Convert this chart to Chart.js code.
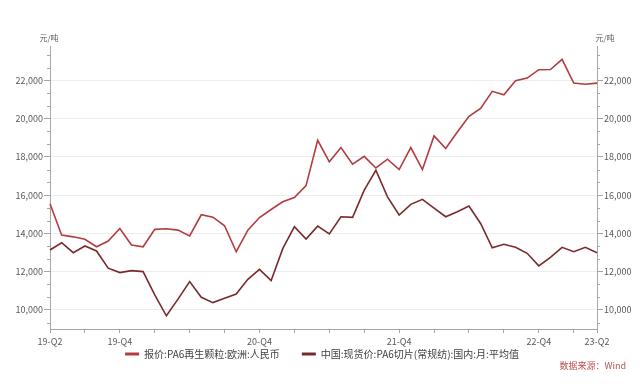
<!DOCTYPE html>
<html><head><meta charset="utf-8">
<script src="https://cdn.jsdelivr.net/npm/chart.js@4.4.0/dist/chart.umd.min.js"></script>
<style>html,body{margin:0;padding:0;background:#fff;}#wrap{width:640px;height:386px;position:relative}</style>
</head><body><div id="wrap"><canvas id="c" width="640" height="386"></canvas></div>
<script>
// ---- data ----
const months = ['2019-04','2019-05','2019-06','2019-07','2019-08','2019-09','2019-10','2019-11','2019-12',
  '2020-01','2020-02','2020-03','2020-04','2020-05','2020-06','2020-07','2020-08','2020-09','2020-10','2020-11','2020-12',
  '2021-01','2021-02','2021-03','2021-04','2021-05','2021-06','2021-07','2021-08','2021-09','2021-10','2021-11','2021-12',
  '2022-01','2022-02','2022-03','2022-04','2022-05','2022-06','2022-07','2022-08','2022-09','2022-10','2022-11','2022-12',
  '2023-01','2023-02','2023-03'];
const europeRecycled = [15550,13910,13820,13690,13300,13600,14260,13390,13300,14210,14240,14170,
  13870,14975,14850,14400,13040,14170,14830,15250,15650,15880,16500,18870,
  17740,18490,17620,18030,17420,17880,17340,18490,17340,19100,18440,19300,
  20120,20540,21430,21250,21980,22120,22560,22570,23100,21860,21800,21860];
const chinaChip = [13130,13510,12990,13340,13080,12180,11950,12050,12000,10780,9690,10560,
  11480,10660,10380,10610,10830,11600,12120,11530,13200,14350,13700,14380,
  13970,14870,14840,16260,17300,15910,14960,15520,15780,15320,14870,15130,
  15430,14520,13250,13430,13270,12960,12300,12750,13270,13040,13270,12990];
const seriesNames = ['报价:PA6再生颗粒:欧洲:人民币', '中国:现货价:PA6切片(常规纺):国内:月:平均值'];
const xTickIndex = [0, 6, 18, 30, 42, 47];
const xTickText = ['19-Q2', '19-Q4', '20-Q4', '21-Q4', '22-Q4', '23-Q2'];
const yTicks = [10000, 12000, 14000, 16000, 18000, 20000, 22000];
const unitText = '元/吨';
const sourceText = '数据来源：Wind';

// ---- styling ----
const FONT = "'Noto Sans CJK SC', 'Noto Sans', sans-serif";
const AXIS = '#a6a6a6';
const LABEL = '#595959';
const C1 = '#b23c40';
const C2 = '#7a2a2c';

const extras = {
  id: 'extras',
  afterDraw(chart) {
    const ctx = chart.ctx, a = chart.chartArea;
    ctx.save();
    // minor ticks on both value axes
    ctx.strokeStyle = AXIS; ctx.lineWidth = 1;
    const ys = chart.scales.y;
    for (let k = -1; k <= 21; k++) {
      if (k % 3 === 0) continue;
      const v = 10000 + k * 2000 / 3;
      if (v < ys.min || v > ys.max) continue;
      const py = Math.round(ys.getPixelForValue(v)) + 0.5;
      ctx.beginPath();
      ctx.moveTo(a.left - 3, py); ctx.lineTo(a.left, py);
      ctx.moveTo(a.right, py); ctx.lineTo(a.right + 3, py);
      ctx.stroke();
    }
    // unit labels
    ctx.fillStyle = LABEL;
    ctx.font = "8px " + FONT;
    ctx.textAlign = 'center'; ctx.textBaseline = 'middle';
    ctx.fillText(unitText, a.left - 1, 38);
    ctx.fillText(unitText, a.right + 8, 38);
    // legend (from the chart's own datasets)
    ctx.font = "10px " + FONT;
    ctx.textAlign = 'left';
    const ds = chart.data.datasets;
    const box = 14, gapText = 5, gapItem = 22;
    const widths = ds.map(d => box + gapText + ctx.measureText(d.label).width);
    const total = widths.reduce((s, w) => s + w, 0) + gapItem * (ds.length - 1);
    let lx = 322 - total / 2;
    const ly = 354;
    ds.forEach((d, i) => {
      ctx.fillStyle = d.borderColor;
      ctx.fillRect(lx, ly - 1.5, box, 3);
      ctx.fillStyle = '#404040';
      ctx.fillText(d.label, lx + box + gapText, ly);
      lx += widths[i] + gapItem;
    });
    // source
    ctx.fillStyle = '#c0504d';
    ctx.font = "9px " + FONT;
    ctx.textAlign = 'right';
    ctx.fillText(sourceText, 626, 366);
    ctx.restore();
  }
};

const yCommon = {
  min: 9000, max: 23800,
  afterBuildTicks: s => { s.ticks = yTicks.map(v => ({ value: v })); },
  border: { color: AXIS, width: 1 },
  ticks: { font: { size: 9, family: FONT }, color: LABEL, padding: 1,
    callback: v => Number(v).toLocaleString('en-US') }
};

new Chart(document.getElementById('c'), {
  type: 'line',
  data: {
    labels: months,
    datasets: [
      { label: seriesNames[0], data: europeRecycled, borderColor: C1, backgroundColor: C1,
        borderWidth: 1.6, pointRadius: 0, tension: 0, yAxisID: 'y' },
      { label: seriesNames[1], data: chinaChip, borderColor: C2, backgroundColor: C2,
        borderWidth: 1.6, pointRadius: 0, tension: 0, yAxisID: 'y' }
    ]
  },
  options: {
    responsive: false, animation: false, devicePixelRatio: 1,
    layout: { padding: { top: 46, bottom: 37, left: 0, right: 0 } },
    plugins: {
      legend: { display: false },
      tooltip: { enabled: false }
    },
    scales: {
      x: { type: 'category', offset: false,
        afterFit: s => { s.height = 20; },
        border: { color: AXIS, width: 1 },
        grid: { drawOnChartArea: false, tickLength: 4,
          tickColor: c => (c.index % 3 === 0 || c.index === months.length - 1) ? AXIS : 'rgba(0,0,0,0)' },
        ticks: { autoSkip: false, maxRotation: 0, minRotation: 0, padding: 3,
          font: { size: 9, family: FONT }, color: LABEL,
          callback: (v, i) => { const k = xTickIndex.indexOf(i); return k >= 0 ? xTickText[k] : ''; } }
      },
      y: Object.assign({}, yCommon, { position: 'left',
        afterFit: s => { s.width = 50; },
        grid: { color: '#ececec', tickColor: AXIS, tickLength: 6 } }),
      y2: Object.assign({}, yCommon, { position: 'right',
        afterFit: s => { s.width = 43; },
        grid: { drawOnChartArea: false, tickColor: AXIS, tickLength: 6 } })
    }
  },
  plugins: [extras]
});
</script></body></html>
